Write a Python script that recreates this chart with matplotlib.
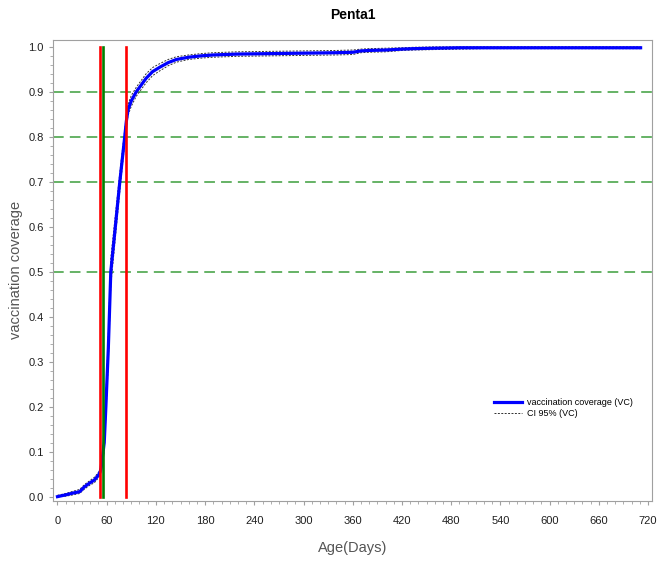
import matplotlib
matplotlib.use("Agg")
import matplotlib.pyplot as plt
from matplotlib.ticker import MultipleLocator, FormatStrFormatter

# --- Data --- #
days = [0, 10, 19, 27, 33, 39, 45, 50, 52, 53,
        55, 57, 59, 62, 65, 70, 76, 82, 84, 86,
        90, 96, 102, 108, 116, 125, 135, 145, 160, 175,
        190, 220, 260, 300, 340, 360, 370, 380, 400, 420,
        434, 460, 490, 520, 600, 660, 711]
vc = [0.000, 0.004, 0.008, 0.011, 0.022, 0.030, 0.037, 0.048, 0.055, 0.062,
      0.090, 0.120, 0.200, 0.330, 0.500, 0.590, 0.700, 0.800, 0.835, 0.860,
      0.880, 0.900, 0.915, 0.930, 0.945, 0.955, 0.965, 0.972, 0.977, 0.980,
      0.982, 0.984, 0.985, 0.986, 0.987, 0.988, 0.991, 0.992, 0.993, 0.995,
      0.996, 0.997, 0.998, 0.998, 0.998, 0.998, 0.998]
ci_lo = [0.000, 0.001, 0.004, 0.007, 0.017, 0.025, 0.031, 0.042, 0.049, 0.055,
         0.076, 0.103, 0.178, 0.300, 0.470, 0.565, 0.680, 0.785, 0.822, 0.848,
         0.868, 0.890, 0.905, 0.920, 0.936, 0.947, 0.958, 0.966, 0.972, 0.975,
         0.977, 0.979, 0.980, 0.981, 0.982, 0.983, 0.987, 0.988, 0.989, 0.992,
         0.993, 0.994, 0.995, 0.996, 0.996, 0.996, 0.996]
ci_hi = [0.003, 0.007, 0.012, 0.016, 0.027, 0.035, 0.043, 0.054, 0.061, 0.069,
         0.104, 0.137, 0.222, 0.360, 0.530, 0.615, 0.720, 0.815, 0.848, 0.872,
         0.892, 0.910, 0.925, 0.940, 0.954, 0.963, 0.972, 0.978, 0.982, 0.985,
         0.987, 0.989, 0.990, 0.991, 0.992, 0.993, 0.995, 0.996, 0.997, 0.998,
         0.999, 1.000, 1.000, 1.000, 1.000, 1.000, 1.000]

ref_levels = [0.5, 0.7, 0.8, 0.9]
red_days = [52, 84]
green_days = [56]

plt.rcParams['font.family'] = ['Liberation Sans Narrow', 'Liberation Sans', 'DejaVu Sans']

fig = plt.figure(figsize=(6.58, 5.65), dpi=100)
ax = fig.add_axes([0.081, 0.1138, 0.9094, 0.8152])

for lvl in ref_levels:
    ax.axhline(lvl, color='#3c9e3c', lw=1.1, dashes=(7, 4), zorder=1)

ax.plot(days, ci_lo, color='#303030', lw=0.7, ls=(0, (2, 1.5)), zorder=2, label='CI 95% (VC)')
ax.plot(days, ci_hi, color='#303030', lw=0.7, ls=(0, (2, 1.5)), zorder=2)
ax.plot(days, vc, color='#0000ff', lw=2.3, zorder=3, label='vaccination coverage (VC)')

for d in red_days:
    ax.plot([d, d], [0, 1], color='#ff0000', lw=1.9, zorder=5)
for d in green_days:
    ax.plot([d, d], [0, 1], color='#008000', lw=1.9, zorder=5)

ax.set_xlim(-5.1, 724.5)
ax.set_ylim(-0.009, 1.015)
ax.xaxis.set_major_locator(MultipleLocator(60))
ax.xaxis.set_minor_locator(MultipleLocator(10))
ax.yaxis.set_major_locator(MultipleLocator(0.1))
ax.yaxis.set_minor_locator(MultipleLocator(0.02))
ax.yaxis.set_major_formatter(FormatStrFormatter('%.1f'))

for s in ax.spines.values():
    s.set_color('#a0a0a0')
ax.tick_params(which='major', length=3, color='#a0a0a0', labelsize=8, labelcolor='#202020', pad=4)
ax.tick_params(axis='x', which='major', pad=8)
ax.tick_params(which='minor', length=2, color='#a0a0a0')

ax.set_title('Penta1', fontsize=10, fontweight='bold', pad=15)
ax.set_xlabel('Age(Days)', fontsize=10.5, color='#555555', labelpad=11, family='Liberation Sans')
ax.set_ylabel('vaccination coverage', fontsize=10.5, color='#555555', labelpad=4, family='Liberation Sans')

h, l = ax.get_legend_handles_labels()
ax.legend(h[::-1], l[::-1], loc='center left', bbox_to_anchor=(489 / 658, 1 - 408 / 565),
          bbox_transform=fig.transFigure, frameon=False, fontsize=6.5,
          borderpad=0, handlelength=3.2, handletextpad=0.5, labelspacing=0.2)

fig.savefig('out.png', dpi=100)
